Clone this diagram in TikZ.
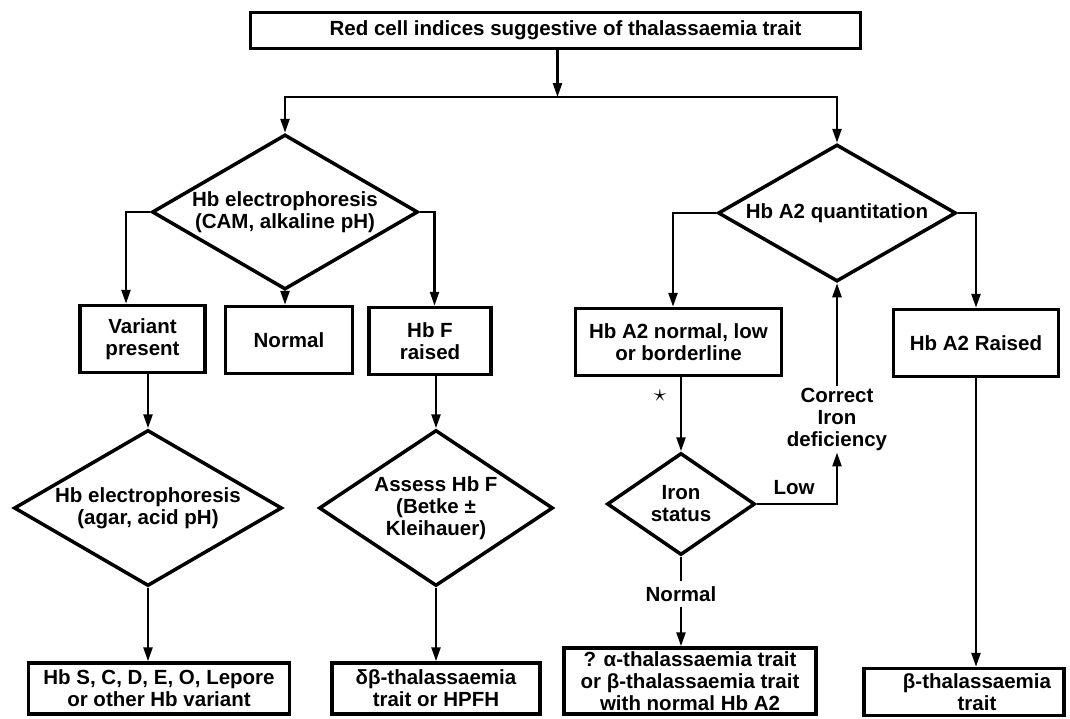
\documentclass[tikz,border=0pt]{standalone}
\usepackage{fontspec}
\setmainfont{Liberation Sans}
\usetikzlibrary{shapes.geometric,arrows.meta}
\tikzset{
  lbl/.style={font=\fontsize{20.5}{22}\selectfont\bfseries, align=center},
  box/.style={lbl, draw, line width=3.5pt, inner sep=0pt},
  dia/.style={lbl, draw, diamond, line width=3.5pt, inner sep=0pt},
  conn/.style={line width=2.4pt},
  arr/.style={conn, -{Triangle[length=14pt,width=9pt]}},
}
\begin{document}
\begin{tikzpicture}[x=1pt,y=-1pt]
\useasboundingbox (0,0) rectangle (1070,718);
% top
\node[box, minimum width=610pt, minimum height=36pt] (top) at (555.5,30.5) {\hspace*{20pt}Red cell indices suggestive of thalassaemia trait};
\coordinate (j1) at (557.5,97);
\node[dia, minimum width=266pt, minimum height=155pt, shape aspect=1.716] (d1) at (285,212) {Hb electrophoresis\\(CAM, alkaline pH)};
\node[dia, minimum width=238pt, minimum height=137pt, shape aspect=1.737] (a2) at (837,213) {Hb A2 quantitation};
\draw[arr] (top.south -| j1) -- (j1);
\draw[arr] (j1) -| (d1.north);
\draw[arr] (j1) -| (a2.north);
% left column
\node[box, minimum width=125pt, minimum height=67pt] (var) at (142.5,339) {Variant\\present};
\node[box, minimum width=127pt, minimum height=67pt] (nor) at (289,340) {Normal};
\node[box, minimum width=122pt, minimum height=67pt] (hbf) at (430,341) {Hb F\\raised};
\draw[arr] (d1.west) -| ([xshift=-16.5pt]var.north);
\draw[arr] (d1.south) -- (d1.south |- nor.north);
\draw[arr] (d1.east) -| ([xshift=4.5pt]hbf.north);
\node[dia, minimum width=268pt, minimum height=156pt, shape aspect=1.72] (d3) at (148,508) {Hb electrophoresis\\(agar, acid pH)};
\node[dia, minimum width=234pt, minimum height=156pt, shape aspect=1.5] (d4) at (436,508) {Assess Hb F\\(Betke ±\\Kleihauer)};
\draw[arr] (var.south -| d3.north) -- (d3.north);
\draw[arr] (hbf.south -| d4.north) -- (d4.north);
\node[box, minimum width=261pt, minimum height=51pt] (r1) at (159,688.5) {Hb S, C, D, E, O, Lepore\\or other Hb variant};
\node[box, minimum width=208pt, minimum height=51pt] (r2) at (436,688.5) {δβ-thalassaemia\\trait or HPFH};
\draw[arr] (d3.south) -- (d3.south |- r1.north);
\draw[arr] (d4.south) -- (d4.south |- r2.north);
% right column
\node[box, minimum width=206pt, minimum height=67pt] (anl) at (678.5,342) {Hb A2 normal, low\\or borderline};
\node[box, minimum width=165pt, minimum height=67pt] (rai) at (976,343) {Hb A2 Raised};
\draw[arr] (a2.west) -| ([xshift=-5.5pt]anl.north);
\draw[arr] (a2.east) -| (rai.north);
\node[dia, minimum width=148pt, minimum height=102pt, shape aspect=1.45] (iron) at (681,504) {Iron\\status};
\draw[arr] (anl.south -| iron.north) -- (iron.north);
\node[font=\fontsize{28}{28}\selectfont, inner sep=0pt] (star) at (660,396) {$\star$};
\node[lbl, inner sep=2pt] (corr) at (837,419) {Correct\\Iron\\deficiency};
\draw[arr] (corr.north) -- (a2.south);
\draw[arr] (iron.east) -| (corr.south);
\node[lbl, inner sep=0pt] (lowl) at (794,488) {Low};
\node[lbl, inner sep=5pt] (nrm) at (681,594) {Normal};
\draw[conn] (iron.south) -- (nrm.north);
\node[box, minimum width=252pt, minimum height=66pt] (r3) at (690,681) {? α-thalassaemia trait\\or β-thalassaemia trait\\with normal Hb A2};
\draw[arr] (nrm.south) -- (nrm.south |- r3.north);
\node[box, minimum width=200pt, minimum height=47pt] (r4) at (964,692) {\hspace*{26pt}β-thalassaemia\\\hspace*{26pt}trait};
\draw[arr] (rai.south) -- (rai.south |- r4.north);
\end{tikzpicture}
\end{document}
